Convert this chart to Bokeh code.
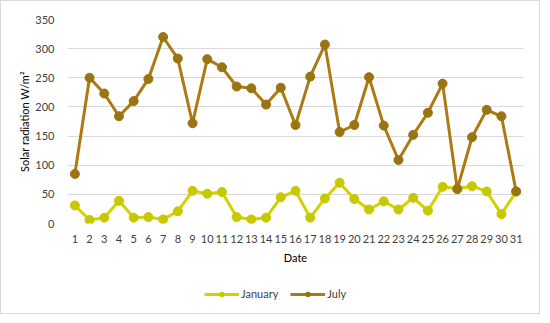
from bokeh.plotting import figure
from bokeh.layouts import column
from bokeh.models import Range1d, FixedTicker, Legend, LegendItem, ColumnDataSource
from bokeh.embed import file_html
from bokeh.resources import INLINE

days = list(range(1, 32))
january = [31, 6, 10, 39, 10, 11, 7, 21, 56, 51, 54, 11, 7, 10, 45, 56, 10, 43, 70, 42,
           24, 38, 24, 44, 22, 63, 60, 64, 55, 16, 55]
july = [85, 250, 223, 184, 210, 248, 320, 283, 172, 282, 268, 235, 232, 204, 233, 169, 252, 307,
        157, 169, 251, 168, 109, 152, 190, 240, 59, 148, 195, 184, 55]
y_ticks = [0, 50, 100, 150, 200, 250, 300, 350]
series_names = ["January", "July"]

FONT = "Lato"
JAN_LINE, JAN_MARK = "#d2d200", "#c8c800"
JUL_LINE, JUL_MARK = "#ad7a12", "#9a7410"
src = ColumnDataSource(dict(day=days, jan=january, jul=july))

W = 538
p = figure(width=W, height=265, output_backend="svg", toolbar_location=None,
           x_range=Range1d(0.5, 31.5), y_range=Range1d(0, 350),
           min_border_left=66, min_border_right=16, min_border_top=18, min_border_bottom=42)
p.outline_line_color = None
p.background_fill_color = "white"
p.border_fill_color = "white"

p.line("day", "jan", source=src, line_color=JAN_LINE, line_width=3)
p.scatter("day", "jan", source=src, size=9, fill_color=JAN_MARK, line_color=JAN_MARK)
p.line("day", "jul", source=src, line_color=JUL_LINE, line_width=3)
p.scatter("day", "jul", source=src, size=9, fill_color=JUL_MARK, line_color=JUL_MARK)

p.xaxis.ticker = FixedTicker(ticks=days)
p.yaxis.ticker = FixedTicker(ticks=y_ticks)
for ax in (p.xaxis[0], p.yaxis[0]):
    ax.axis_line_color = None
    ax.major_tick_line_color = None
    ax.minor_tick_line_color = None
    ax.major_label_text_font = FONT
    ax.major_label_text_font_size = "11px"
    ax.major_label_text_color = "#404040"
    ax.axis_label_text_font = FONT
    ax.axis_label_text_font_size = "11px"
    ax.axis_label_text_font_style = "normal"
    ax.axis_label_text_color = "#000000"
p.xaxis.axis_label = "Date"
p.yaxis.axis_label = "Solar radiation W/m²"
p.xaxis.major_label_standoff = 5
p.xaxis.axis_label_standoff = 5
p.yaxis.major_label_standoff = 7
p.yaxis.axis_label_standoff = 1

p.xgrid.grid_line_color = None
p.ygrid.grid_line_color = "#d9d9d9"
p.ygrid.grid_line_width = 1

# legend strip below the chart; its series renderers lie outside its visible range
lf = figure(width=W, height=47, output_backend="svg", toolbar_location=None,
            x_range=Range1d(0.5, 31.5), y_range=Range1d(1000, 1001),
            x_axis_type=None, y_axis_type=None,
            min_border_left=0, min_border_right=0, min_border_top=0, min_border_bottom=0)
lf.outline_line_color = None
lf.xgrid.visible = False
lf.ygrid.visible = False
jl = lf.line("day", "jan", source=src, line_color=JAN_LINE, line_width=3)
jm = lf.scatter("day", "jan", source=src, size=9, fill_color=JAN_MARK, line_color=JAN_MARK)
ul = lf.line("day", "jul", source=src, line_color=JUL_LINE, line_width=3)
um = lf.scatter("day", "jul", source=src, size=9, fill_color=JUL_MARK, line_color=JUL_MARK)

legend = Legend(items=[LegendItem(label=series_names[0], renderers=[jl, jm]),
                       LegendItem(label=series_names[1], renderers=[ul, um])],
                orientation="horizontal", location=(137, 13),
                label_text_font=FONT, label_text_font_size="11px", label_text_color="#404040",
                glyph_width=35, glyph_height=12, label_standoff=2, spacing=12,
                border_line_color=None, background_fill_alpha=0, padding=0, margin=0)
lf.add_layout(legend, "center")

layout = column(p, lf, spacing=0, styles={"border": "1px solid #d9d9d9"})
open("out.html", "w").write(file_html(layout, INLINE))
